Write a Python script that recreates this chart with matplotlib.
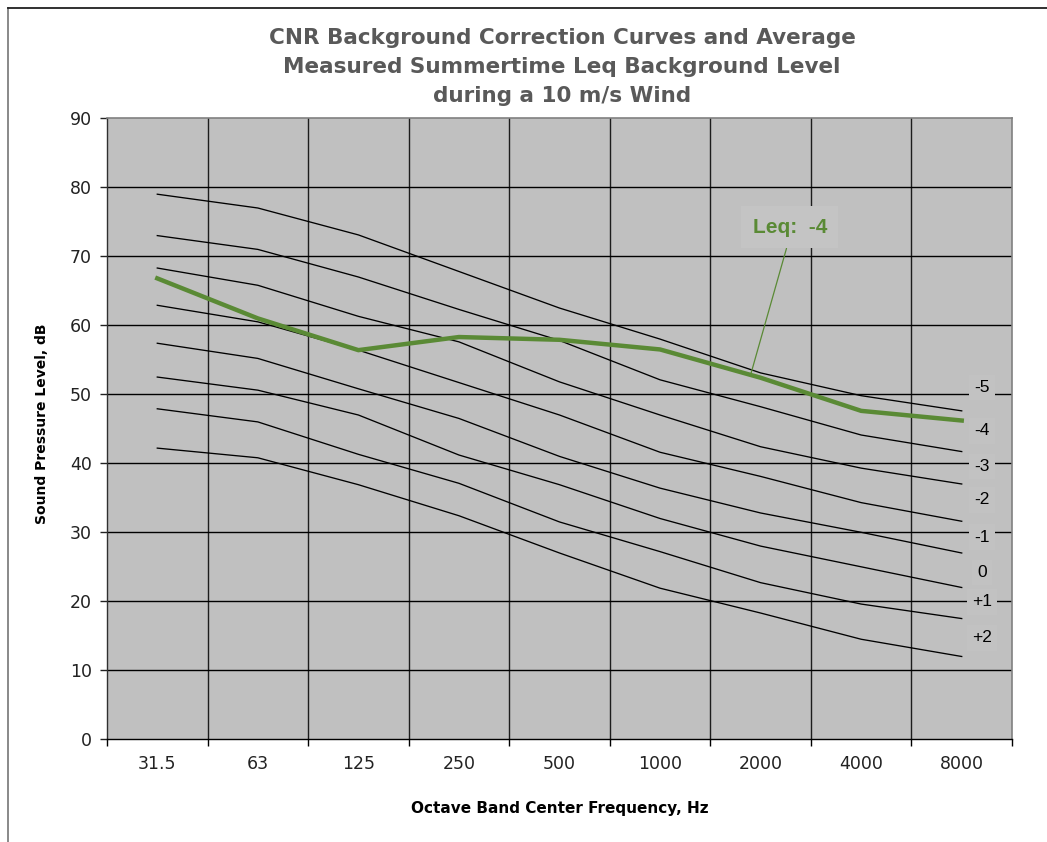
import matplotlib
matplotlib.use("Agg")
import matplotlib.pyplot as plt
from matplotlib.lines import Line2D

# ---------------- data ----------------
frequencies = ["31.5", "63", "125", "250", "500", "1000", "2000", "4000", "8000"]

curve_m5 = [79.0, 77.0, 73.1, 67.8, 62.5, 58.0, 53.1, 49.8, 47.6]
curve_m4 = [73.0, 71.0, 67.0, 62.3, 57.8, 52.1, 48.2, 44.1, 41.7]
curve_m3 = [68.3, 65.8, 61.3, 57.6, 51.8, 47.0, 42.4, 39.3, 37.0]
curve_m2 = [62.9, 60.5, 56.4, 51.7, 47.0, 41.6, 38.1, 34.3, 31.6]
curve_m1 = [57.4, 55.2, 50.8, 46.5, 41.0, 36.4, 32.8, 30.0, 27.0]
curve_0 = [52.5, 50.6, 47.0, 41.2, 36.9, 32.0, 28.0, 25.0, 22.0]
curve_p1 = [47.9, 46.0, 41.3, 37.1, 31.5, 27.2, 22.7, 19.6, 17.5]
curve_p2 = [42.2, 40.8, 36.9, 32.4, 27.0, 21.9, 18.3, 14.5, 12.0]

curve_labels = ["-5", "-4", "-3", "-2", "-1", "0", "+1", "+2"]
leq_values = [66.8, 61.0, 56.4, 58.3, 57.9, 56.5, 52.4, 47.6, 46.2]
leq_label = "Leq:  -4"

# label positions (data units)
label_y = [51.0, 44.7, 39.5, 34.7, 29.3, 24.2, 19.9, 14.7]
label_x = 8.2

curves = [curve_m5, curve_m4, curve_m3, curve_m2, curve_m1, curve_0, curve_p1, curve_p2]

# ---------------- figure ----------------
W, H = 1047, 842
fig = plt.figure(figsize=(W / 100, H / 100), dpi=100)
fig.patch.set_facecolor("white")

left, right, top, bottom = 107, 1012, 118.3, 739.3
ax = fig.add_axes([left / W, 1 - bottom / H, (right - left) / W, (bottom - top) / H])
ax.set_facecolor("#c0c0c0")

x = list(range(len(frequencies)))
for c in curves:
    ax.plot(x, c, color="black", lw=0.95, zorder=3, solid_joinstyle="miter")

green = "#5a8a35"
ax.plot(x, leq_values, color=green, lw=3.2, zorder=4, solid_joinstyle="miter")

ax.set_xlim(-0.5, len(frequencies) - 0.5)
ax.set_ylim(0, 90)
ax.set_yticks(range(0, 91, 10))
ax.set_xticks(x)
ax.set_xticklabels(frequencies)
ax.set_xticks([i + 0.5 for i in range(-1, len(frequencies))], minor=True)

# grid
for yv in range(10, 90, 10):
    ax.axhline(yv, color="black", lw=1.0, zorder=1)
for xv in [i + 0.5 for i in range(len(frequencies) - 1)]:
    ax.axvline(xv, color="black", lw=1.0, zorder=1, alpha=0.85)

for s in ["top", "right"]:
    ax.spines[s].set_color("#808080")
    ax.spines[s].set_linewidth(1.2)
ax.spines["left"].set_color("#303030")
ax.spines["bottom"].set_color("black")
ax.spines["left"].set_linewidth(1.0)
ax.spines["bottom"].set_linewidth(1.0)

tick_font = "DejaVu Sans"
ax.tick_params(axis="y", which="major", length=5, width=1, pad=6, labelsize=12.5,
               colors="#222222")
ax.tick_params(axis="x", which="major", length=0, pad=11, labelsize=12.5, colors="#222222")
ax.tick_params(axis="x", which="minor", length=5, width=1, color="black")
for lab in ax.get_xticklabels() + ax.get_yticklabels():
    lab.set_family(tick_font)

# right side labels
for txt, yv in zip(curve_labels, label_y):
    ax.text(label_x, yv, txt, ha="center", va="center", fontsize=12.5,
            family="Liberation Sans", color="black", zorder=5,
            bbox=dict(boxstyle="square,pad=0.3", fc="#c2c2c2", ec="none"))

# Leq annotation
ax.annotate(leq_label, xy=(5.9, 52.8), xytext=(6.29, 74.2),
            ha="center", va="center", fontsize=15, fontweight="bold",
            family="Liberation Sans", color=green, zorder=6,
            bbox=dict(boxstyle="square,pad=0.55", fc="#c4c4c4", ec="none"),
            arrowprops=dict(arrowstyle="-", color=green, lw=0.9,
                            shrinkA=0, shrinkB=0,
                            relpos=(0.5, 0.0)))

# title
fig.text(562 / W, 1 - 67 / H,
         "CNR Background Correction Curves and Average\n"
         "Measured Summertime Leq Background Level\n"
         "during a 10 m/s Wind",
         ha="center", va="center", fontsize=15.5, fontweight="bold",
         family="DejaVu Sans", color="#595959", linespacing=1.57)

# axis labels
fig.text(42 / W, 1 - 424 / H, "Sound Pressure Level, dB", rotation=90,
         ha="center", va="center", fontsize=10, fontweight="bold",
         family="DejaVu Sans", color="black")
fig.text(560 / W, 1 - 808 / H, "Octave Band Center Frequency, Hz",
         ha="center", va="center", fontsize=11, fontweight="bold",
         family="DejaVu Sans", color="black")

# chart border (left and top)
fig.add_artist(Line2D([8 / W, 8 / W], [0, 1 - 8 / H], transform=fig.transFigure,
                      color="#808080", lw=1.3))
fig.add_artist(Line2D([8 / W, 1], [1 - 8 / H, 1 - 8 / H], transform=fig.transFigure,
                      color="#202020", lw=1.3))

fig.savefig("out.png", dpi=100)
